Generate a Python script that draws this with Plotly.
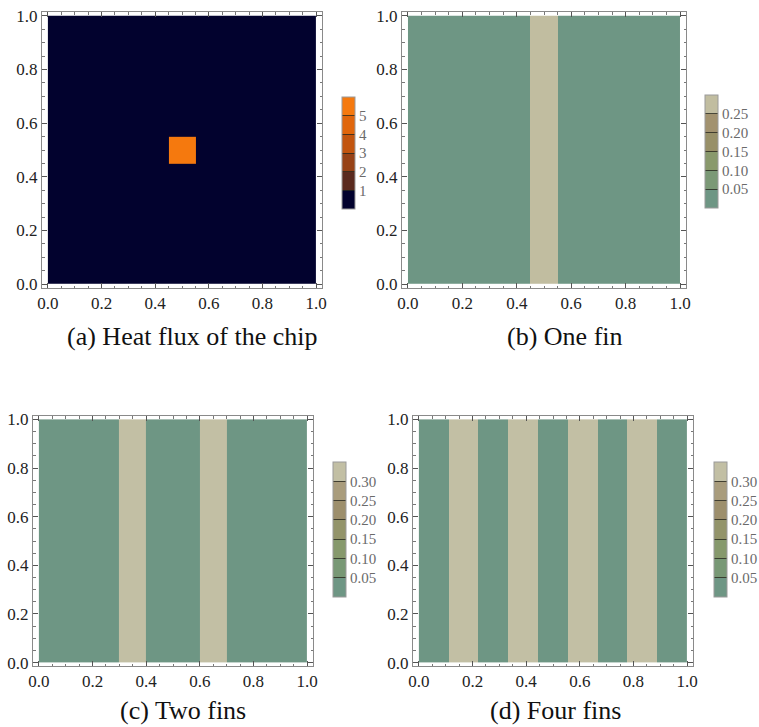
import plotly.graph_objects as go

# ---------------- data ----------------
# (a) heat flux of the chip: square source in the middle
chip_x_edges = [0.0, 0.45, 0.55, 1.0]
chip_y_edges = [0.0, 0.45, 0.55, 1.0]
chip_flux = [[0.5, 0.5, 0.5],
             [0.5, 5.5, 0.5],
             [0.5, 0.5, 0.5]]

# (b) one fin
one_fin_edges = [0.0, 0.45, 0.55, 1.0]
one_fin_vals = [0.01, 0.29, 0.01]

# (c) two fins
two_fin_edges = [0.0, 0.3, 0.4, 0.6, 0.7, 1.0]
two_fin_vals = [0.01, 0.33, 0.01, 0.33, 0.01]

# (d) four fins
four_fin_edges = [0.0, 1/9, 2/9, 3/9, 4/9, 5/9, 6/9, 7/9, 8/9, 1.0]
four_fin_vals = [0.01, 0.33, 0.01, 0.33, 0.01, 0.33, 0.01, 0.33, 0.01]

y_edges_full = [0.0, 1.0]

axis_ticks = [0.0, 0.2, 0.4, 0.6, 0.8, 1.0]
axis_ticklabels = ["0.0", "0.2", "0.4", "0.6", "0.8", "1.0"]

cb_a_ticks = [1, 2, 3, 4, 5]
cb_b_ticks = [0.05, 0.10, 0.15, 0.20, 0.25]
cb_cd_ticks = [0.05, 0.10, 0.15, 0.20, 0.25, 0.30]

captions = ["(a) Heat flux of the chip", "(b) One fin", "(c) Two fins", "(d) Four fins"]

# ---------------- styles ----------------
W, H = 759, 727
SERIF = "Liberation Serif"


def stepped(colors):
    n = len(colors)
    cs = []
    for i, c in enumerate(colors):
        cs.append([i / n, c])
        cs.append([(i + 1) / n, c])
    return cs


cols_a = ["#02022e", "#5a2a1e", "#974216", "#c2550f", "#e0660c", "#f5790e"]
cols_b = ["#6e9684", "#7b9976", "#89996c", "#989068", "#a2926f", "#c1bda0"]
cols_cd = ["#6e9684", "#789875", "#86996c", "#93946a", "#9d8f6c", "#a99c7c", "#c2bfa4"]


def cbar(x, ymid, length, ticks, fmt):
    return dict(
        x=x / W, xanchor="left", y=1 - ymid / H, yanchor="middle",
        len=length / H, lenmode="fraction", thickness=13, thicknessmode="pixels",
        tickvals=ticks, ticktext=[fmt.format(t) for t in ticks],
        ticks="inside", ticklen=13, tickcolor="rgba(40,40,30,0.8)", tickwidth=1,
        tickfont=dict(family=SERIF, size=15, color="#6a6a6a"),
        outlinewidth=1, outlinecolor="#9a9a9a", xpad=0, ypad=0,
    )


fig = go.Figure()

# (a)
fig.add_trace(go.Heatmap(
    x=chip_x_edges, y=chip_y_edges, z=chip_flux, zmin=0, zmax=6,
    colorscale=stepped(cols_a), xaxis="x", yaxis="y",
    colorbar=cbar(342, 153, 112, cb_a_ticks, "{:d}"), hoverinfo="skip"))
# (b)
fig.add_trace(go.Heatmap(
    x=one_fin_edges, y=y_edges_full, z=[one_fin_vals], zmin=0, zmax=0.30,
    colorscale=stepped(cols_b), xaxis="x2", yaxis="y2",
    colorbar=cbar(705, 151.5, 113, cb_b_ticks, "{:.2f}"), hoverinfo="skip"))
# (c)
fig.add_trace(go.Heatmap(
    x=two_fin_edges, y=y_edges_full, z=[two_fin_vals], zmin=0, zmax=0.35,
    colorscale=stepped(cols_cd), xaxis="x3", yaxis="y3",
    colorbar=cbar(333, 529.5, 135, cb_cd_ticks, "{:.2f}"), hoverinfo="skip"))
# (d)
fig.add_trace(go.Heatmap(
    x=four_fin_edges, y=y_edges_full, z=[four_fin_vals], zmin=0, zmax=0.35,
    colorscale=stepped(cols_cd), xaxis="x4", yaxis="y4",
    colorbar=cbar(714, 529.5, 135, cb_cd_ticks, "{:.2f}"), hoverinfo="skip"))


def ax(domain, anchor, rng):
    return dict(
        domain=domain, anchor=anchor, range=rng,
        tickvals=axis_ticks, ticktext=axis_ticklabels,
        ticks="inside", ticklen=5, tickwidth=1, tickcolor="#555",
        minor=dict(ticks="inside", ticklen=2.5, tickcolor="#777", dtick=0.05),
        showline=True, linecolor="#8a8a8a", linewidth=1, mirror="ticks",
        showgrid=False, zeroline=False,
        tickfont=dict(family=SERIF, size=17, color="#222"),
        fixedrange=True,
    )


xr = [-0.022, 1.022]
yr = [-0.014, 1.014]

panels = {
    # (x0, x1, ytop, ybottom) in pixels
    1: (42, 322, 12, 288),
    2: (402, 686, 12, 288),
    3: (33, 313, 416, 666),
    4: (413, 693, 416, 666),
}

layout_axes = {}
for i, (x0, x1, yt, yb) in panels.items():
    sfx = "" if i == 1 else str(i)
    layout_axes["xaxis" + sfx] = ax([x0 / W, x1 / W], "y" + sfx, xr)
    layout_axes["yaxis" + sfx] = ax([1 - yb / H, 1 - yt / H], "x" + sfx, yr)

fig.update_layout(**layout_axes)

caption_pos = [(192, 336), (565, 336), (183, 710), (555, 710)]
for txt, (cx, cy) in zip(captions, caption_pos):
    fig.add_annotation(
        text=txt, x=cx / W, y=1 - cy / H, xref="paper", yref="paper",
        xanchor="center", yanchor="middle", showarrow=False,
        font=dict(family=SERIF, size=26, color="#111"))

fig.update_layout(
    width=W, height=H,
    margin=dict(l=0, r=0, t=0, b=0, pad=0, autoexpand=False),
    paper_bgcolor="white", plot_bgcolor="white", showlegend=False,
)

fig.write_html(
    "out.html",
    config={"displayModeBar": False},
    post_script="document.body.style.margin='0';document.body.style.overflow='hidden';",
)
